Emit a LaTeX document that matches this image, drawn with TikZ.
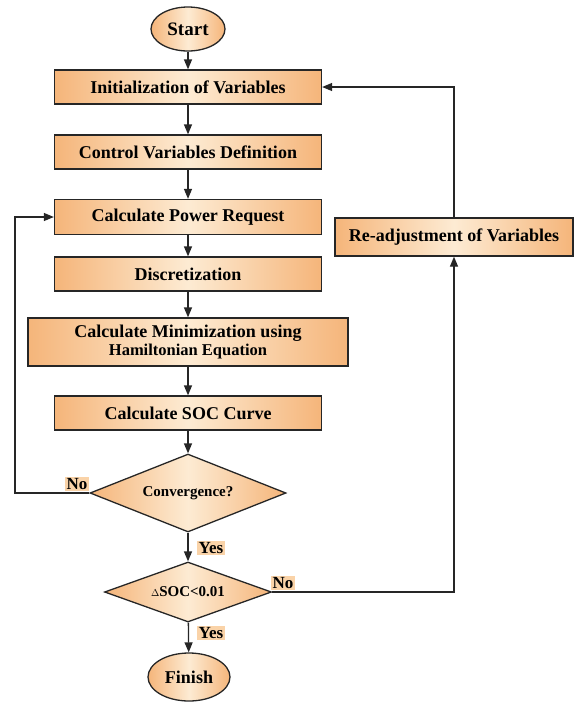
\documentclass[tikz,border=0pt]{standalone}
\usepackage{fontspec}
\setmainfont{Liberation Serif}
\usetikzlibrary{shapes.geometric,arrows.meta}
\definecolor{odark}{HTML}{F5B57A}
\definecolor{olight}{HTML}{FDEBD3}
\definecolor{lblfill}{HTML}{FAD3A8}
\tikzset{
  fillshade/.style={left color=odark,right color=odark,middle color=olight},
  procbox/.style={draw=black!85,line width=1.3pt,fillshade,rectangle,inner sep=0pt,
    minimum width=267pt,minimum height=34pt,font=\fontsize{18}{20}\selectfont\bfseries,align=center},
  termnode/.style={draw=black!85,line width=1.3pt,fillshade,ellipse,inner sep=0pt,
    font=\fontsize{19}{21}\selectfont\bfseries},
  decide/.style={draw=black!85,line width=1.3pt,fillshade,diamond,inner sep=0pt,
    font=\fontsize{15}{17}\selectfont\bfseries},
  lbl/.style={fill=lblfill,inner sep=1.5pt,font=\fontsize{17}{19}\selectfont\bfseries},
  flow/.style={line width=1.3pt,draw=black!85,-{Triangle[length=10pt,width=8pt]}},
  plain/.style={line width=1.3pt,draw=black!85}
}
\begin{document}
\begin{tikzpicture}[x=1pt,y=-1pt]
\useasboundingbox (0,0) rectangle (578,702);
\node[termnode,minimum width=74pt,minimum height=44pt] (start) at (188,29) {Start};
\node[procbox] (init) at (188,87) {Initialization of Variables};
\node[procbox] (ctrl) at (188,152) {Control Variables Definition};
\node[procbox,minimum height=35pt] (power) at (188,217) {Calculate Power Request};
\node[procbox] (disc) at (188,274) {Discretization};
\node[procbox,minimum width=320pt,minimum height=48pt] (minim) at (188,342)
  {Calculate Minimization using\\[-2pt]{\fontsize{16.5}{18}\selectfont Hamiltonian Equation}};
\node[procbox] (soc) at (188,413) {Calculate SOC Curve};
\node[decide,shape aspect=2.5,minimum width=196pt,minimum height=78pt] (conv) at (188,493) {Convergence?};
\node[decide,shape aspect=2.8,minimum width=167pt,minimum height=60pt] (dsoc) at (188,592)
  {{\fontsize{10}{12}\selectfont$\Delta$}SOC<0.01};
\node[termnode,minimum width=82pt,minimum height=48pt,font=\fontsize{18}{20}\selectfont\bfseries] (finish) at (189,677) {Finish};
\node[procbox,minimum width=238pt,minimum height=38pt] (readj) at (454,237) {Re-adjustment of Variables};
\coordinate (lx) at (15,0);

\draw[flow] (start) -- (init);
\draw[flow] (init) -- (ctrl);
\draw[flow] (ctrl) -- (power);
\draw[flow] (power) -- (disc);
\draw[flow] (disc) -- (minim);
\draw[flow] (minim) -- (soc);
\draw[flow] (soc) -- (conv);
\draw[flow] (conv.west) -- (conv.west -| lx) |- (power.west);
\draw[flow] (conv) -- (dsoc);
\draw[flow] (dsoc) -- (finish);
\draw[flow] (dsoc.east) -| (readj.south);
\draw[flow] (readj.north) |- (init.east);

\node[lbl] (no1) at (77,484) {No};
\node[lbl] (yes1) at (211,548) {Yes};
\node[lbl] (no2) at (283,583) {No};
\node[lbl] (yes2) at (211,633) {Yes};
\end{tikzpicture}
\end{document}
